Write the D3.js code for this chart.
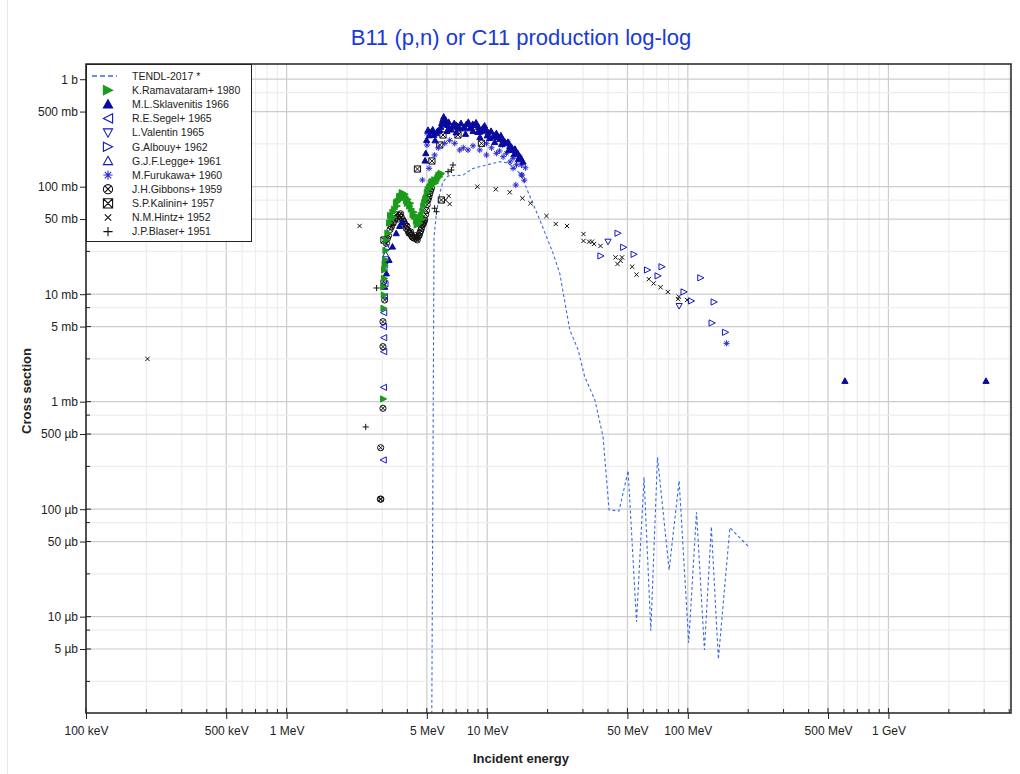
<!DOCTYPE html>
<html>
<head>
<meta charset="utf-8">
<script src="https://cdn.jsdelivr.net/npm/d3@7"></script>
<style>
  body { margin: 0; background: #fff; }
  text { font-family: Arial, "Liberation Sans", sans-serif; }
</style>
</head>
<body>
<div id="chart"></div>
<script>
/***** Data (energy in MeV, cross section in mb) *****/
var tendl = [[5.23,1e-5],[5.43,34.3],[5.58,56.6],[5.80,86.8],[6.02,111],[6.38,126],[7.57,128],[8.02,138],
  [8.50,148],[9.91,159],[11.5,171],[12.5,167],[13.5,154],[14.8,128],[15.7,96.6],[18.3,49.0],[21.3,24.0],
  [23.0,15.6],[25.8,4.65],[28.4,3.03],[30.6,1.71],[34.4,1.04],[37.8,0.472],[40.5,0.0983],[45.4,0.0962],
  [50.4,0.228],[55.5,0.00898],[60.5,0.198],[65.4,0.00741],[70.6,0.304],[80.7,0.0272],[90.5,0.184],
  [101,0.00573],[110.5,0.0936],[121,0.0049],[131,0.0688],[142,0.00402],[162,0.0673],[201,0.0448]]

var ramavataram = [[3.046,1.06],[3.06,7.39],[3.07,9.83],[3.05,11.7],[3.08,14.0],[3.082,16.8],[3.10,18.5],
  [3.118,20.8],[3.13,25.5],[3.144,31.9],[3.20,37],[3.26,46],[3.30,54],[3.33,50],[3.39,58],[3.42,52],
  [3.46,62],[3.53,71],[3.56,66],[3.59,73],[3.66,81],[3.70,76],[3.72,82],[3.77,88],[3.80,87],[3.86,82],
  [3.90,85],[3.92,80],[3.97,74],[4.00,70],[4.03,76],[4.11,66],[4.15,70],[4.19,62],[4.27,55],[4.31,58],
  [4.35,53],[4.44,48],[4.48,44],[4.52,49],[4.57,52],[4.61,46],[4.69,54],[4.74,50],[4.78,59],[4.83,66],
  [4.88,71],[4.93,76],[4.98,79],[5.03,88],[5.08,94],[5.17,98],[5.22,100],[5.27,108],[5.33,112],[5.38,107],
  [5.48,116],[5.53,108],[5.58,113],[5.64,118],[5.70,122],[5.75,128],[5.80,124],[5.86,130],[5.91,133]]

var sklavenitis = [[3.082,11.7],[3.144,15.6],[3.24,20.8],[3.37,27.7],[3.52,36.9],[3.66,43.1],[3.78,47.0],
  [4.90,175],[4.94,205],[4.99,272],[5.07,337],[5.15,300],[5.27,325],[5.35,340],[5.41,303],[5.50,270],
  [5.58,314],[5.65,330],[5.80,337],[5.87,360],[5.93,391],[6.00,420],[6.07,448],[6.15,380],[6.21,417],
  [6.30,330],[6.35,375],[6.42,400],[6.50,349],[6.60,340],[6.73,367],[6.85,390],[7.02,375],[7.00,320],
  [7.15,360],[7.29,349],[7.40,390],[7.57,349],[7.70,360],[7.80,310],[7.88,383],[8.05,400],[8.18,349],
  [8.30,360],[8.47,383],[8.50,330],[8.66,375],[8.80,395],[8.97,323],[9.05,360],[9.18,325],[9.20,290],
  [9.35,330],[9.50,352],[9.70,370],[9.91,337],[10.0,300],[10.1,320],[10.29,284],[10.45,330],[10.69,292],
  [10.8,300],[10.9,260],[11.11,314],[11.3,290],[11.54,278],[11.7,300],[11.8,250],[11.99,272],[12.2,265],
  [12.47,253],[12.7,260],[12.8,220],[12.95,239],[13.2,235],[13.45,220],[13.6,200],[13.75,225],[13.95,210],
  [14.2,205],[14.3,180],[14.52,190],[14.7,185],[15.08,171],[607,1.56],[3065,1.56]]

var segel = [[3.03,0.287],[3.04,1.36],[3.046,2.92],[3.046,3.94],[3.04,4.99],[3.046,6.73],[3.07,9.5],[3.09,12.5]]

var valentin = [[40.0,30.8],[90.5,7.77]]

var albouy = [[44.9,36.9],[47.9,27.3],[54.0,23.5],[36.9,22.7],[63.0,16.8],[74.4,18.0],[71.1,14.8],
  [95.8,10.5],[104.3,8.65],[116.1,14.2],[135.3,8.46],[132.2,5.40],[154.2,4.42]]

var legge = [[3.08,18.5],[3.12,23.5],[3.16,27.5]]

var furukawa = [[4.75,115.5],[5.13,148.3],[5.47,197.2],[5.01,244.3],[5.01,313.8],[5.7,230],[6.14,253.3],
  [6.5,270],[6.89,253.3],[7.29,219.5],[7.6,230],[8.02,219.5],[8.5,240],[9.18,219.5],[9.91,197.2],
  [10.5,230],[11.11,204.5],[11.5,215],[12.0,190],[12.47,204.5],[13.0,170],[13.45,183.7],[14.0,160],
  [14.52,190.1],[14.81,159.2],[13.45,148.3],[14.81,128.5],[13.88,103.7],[9.91,253.3],[11.95,244.3],
  [12.65,262.2],[14.91,128.5],[15.3,115],[15.5,150],[156.0,3.49]]

var gibbons = [[2.933,0.124],[2.95,0.124],[2.943,0.373],[3.022,0.868],[3.022,3.25],[3.022,5.55],
  [3.082,8.83],[3.046,13.07],[3.10,20],[3.144,29.8],[3.18,33],[3.22,35],[3.28,40],[3.33,42.5],[3.40,46],
  [3.46,49.0],[3.50,55],[3.56,52],[3.62,50],[3.66,54.5],[3.70,56],[3.73,52],[3.80,49.0],[3.84,47],
  [3.88,45],[3.95,41.0],[3.98,43],[4.03,39],[4.07,37],[4.11,36.9],[4.15,38],[4.20,35],[4.24,34],
  [4.28,33.5],[4.35,33.1],[4.40,35],[4.44,33],[4.48,32],[4.52,34.3],[4.57,35],[4.61,37],[4.66,39],
  [4.70,41.0],[4.75,44],[4.79,45],[4.84,47],[4.88,49.0],[4.93,55],[4.98,60],[5.02,68],[5.07,75.2],
  [5.12,80],[5.17,86],[5.22,92],[5.27,96.6]]

var kalinin = [[3.057,31.9],[4.49,146.1],[5.30,173.4],[5.80,244.3],[6.02,302.7],[6.89,361.5],
  [7.15,302.7],[9.36,253.3],[5.91,75.2]]

var hintz = [[0.2026,2.50],[2.31,43.1],[6.43,81.9],[6.50,69.0],[6.20,75.2],[8.93,100],[11.03,94.6],
  [12.95,88.7],[14.98,78.0],[16.43,70.1],[19.74,53.4],[21.96,45.0],[25.0,43.1],[30.18,36.3],[30.18,31.3],
  [32.2,30.8],[33.3,30.8],[34.1,29.3],[36.7,28.1],[43.6,22.0],[47.0,22.0],[46.2,20.5],[44.6,19.1],
  [52.8,18.0],[55.5,15.2],[63.9,13.8],[67.5,12.6],[73.1,11.6],[79.5,10.5],[90.2,9.48],[89.5,9.02],[99.2,8.83]]

var blaser = [[2.48,0.582],[2.81,11.42],[3.39,44.0],[5.47,63.0],[5.58,58.5],[6.38,137.9],[6.63,143.0],[6.75,159.2]]

var xTickValues = [0.1, 0.5, 1, 5, 10, 50, 100, 500, 1000]
var xTickLabels = ["100 keV","500 keV","1 MeV","5 MeV","10 MeV","50 MeV","100 MeV","500 MeV","1 GeV"]
var yTickValues = [1000, 500, 100, 50, 10, 5, 1, 0.5, 0.1, 0.05, 0.01, 0.005]
var yTickLabels = ["1 b","500 mb","100 mb","50 mb","10 mb","5 mb","1 mb","500 µb","100 µb","50 µb","10 µb","5 µb"]

var legendNames = ["K.Ramavataram+ 1980","M.L.Sklavenitis 1966","R.E.Segel+ 1965","L.Valentin 1965",
  "G.Albouy+ 1962","G.J.F.Legge+ 1961","M.Furukawa+ 1960","J.H.Gibbons+ 1959","S.P.Kalinin+ 1957",
  "N.M.Hintz+ 1952","J.P.Blaser+ 1951"]
var seriesData = [ramavataram, sklavenitis, segel, valentin, albouy, legge, furukawa, gibbons, kalinin, hintz, blaser]
var seriesMarks = ["triR","triU","triL","triD","triR","triU","star","circX","sqX","cross","plus"]
var seriesFilled = [true, true, false, false, false, false, false, false, false, false, false]
var seriesColors = ["#1a9c1a","#0a0aa0","#1515c8","#1515c8","#1515c8","#1515c8","#2a2ad0",
  "#111","#111","#111","#111"]

/***** Configuration *****/
var margin = { top: 64, right: 9, bottom: 61, left: 86 }
var width = 1020 - margin.left - margin.right
var height = 774 - margin.top - margin.bottom

var x = d3.scaleLog().domain([0.1, 4083]).range([0, width])
var y = d3.scaleLog().domain([1.27e-3, 1385]).range([height, 0])

var svg = d3.select("#chart").append("svg")
    .attr("width", 1020).attr("height", 774)

svg.append("line").attr("x1", 7.5).attr("x2", 7.5).attr("y1", 0).attr("y2", 774)
    .attr("stroke", "#e8e8e8")

svg.append("text").attr("x", 521).attr("y", 45).attr("text-anchor", "middle")
    .attr("font-size", 22).attr("fill", "#1a3ad8")
    .text("B11 (p,n) or C11 production log-log")

var g = svg.append("g").attr("transform", "translate(" + margin.left + "," + margin.top + ")")

g.append("clipPath").attr("id", "clip").append("rect")
    .attr("width", width).attr("height", height)

// grid values
function decadeValues(scale, mults) {
  var d = scale.domain(), lo = Math.min(d[0], d[1]), hi = Math.max(d[0], d[1]), out = []
  for (var n = Math.floor(Math.log10(lo)); n <= Math.ceil(Math.log10(hi)); n++) {
    mults.forEach(function (k) {
      var v = k * Math.pow(10, n)
      if (v >= lo && v <= hi) out.push({ v: v, major: k === 1 || k === 5 })
    })
  }
  return out
}
var xGrid = decadeValues(x, [1,2,3,4,5,6,7,8,9])
var yGrid = decadeValues(y, [1,2.5,5,7.5])

var grid = g.append("g")
grid.selectAll(".gx").data(xGrid).enter().append("line")
    .attr("x1", d => x(d.v)).attr("x2", d => x(d.v)).attr("y1", 0).attr("y2", height)
    .attr("stroke", d => d.major ? "#cccccc" : "#ededed").attr("stroke-width", 1.2)
grid.selectAll(".gy").data(yGrid).enter().append("line")
    .attr("y1", d => y(d.v)).attr("y2", d => y(d.v)).attr("x1", 0).attr("x2", width)
    .attr("stroke", d => d.major ? "#cccccc" : "#ededed").attr("stroke-width", 1.2)

// axes
var xAxis = d3.axisBottom(x).tickValues(xTickValues)
    .tickFormat((d, i) => xTickLabels[i]).tickSize(6).tickPadding(7)
var yAxis = d3.axisLeft(y).tickValues(yTickValues)
    .tickFormat((d, i) => yTickLabels[i]).tickSize(6).tickPadding(2)

var gx = g.append("g").attr("transform", "translate(0," + height + ")").call(xAxis)
var gy = g.append("g").call(yAxis)
;[gx, gy].forEach(function (a) {
  a.select(".domain").remove()
  a.selectAll("text").attr("font-size", 12).attr("fill", "#222")
    .style("font-family", "Arial, 'Liberation Sans', sans-serif")
  a.selectAll("line").attr("stroke", "#222")
})

// inner ticks
g.append("g").selectAll("line").data(xGrid).enter().append("line")
    .attr("x1", d => x(d.v)).attr("x2", d => x(d.v))
    .attr("y1", height).attr("y2", d => height - (d.major ? 5 : 4)).attr("stroke", "#222")
g.append("g").selectAll("line").data(yGrid).enter().append("line")
    .attr("y1", d => y(d.v)).attr("y2", d => y(d.v))
    .attr("x1", 0).attr("x2", d => d.major ? 5 : 4).attr("stroke", "#222")

// TENDL curve
var line = d3.line().x(d => x(d[0])).y(d => y(d[1]))
var plot = g.append("g").attr("clip-path", "url(#clip)")
plot.append("path").datum(tendl).attr("d", line)
    .attr("fill", "none").attr("stroke", "#3a6ae0").attr("stroke-width", 1.1)
    .attr("stroke-dasharray", "3,2.5")

// markers
function symPath(type, s) {
  var k = s * 0.7
  switch (type) {
    case "triR": return "M" + (-s) + "," + (-s) + "L" + s + ",0L" + (-s) + "," + s + "Z"
    case "triL": return "M" + s + "," + (-s) + "L" + (-s) + ",0L" + s + "," + s + "Z"
    case "triU": return "M0," + (-s) + "L" + s + "," + (s * 0.8) + "L" + (-s) + "," + (s * 0.8) + "Z"
    case "triD": return "M" + (-s) + "," + (-s * 0.8) + "L" + s + "," + (-s * 0.8) + "L0," + s + "Z"
    case "star": return "M" + (-s) + ",0H" + s + "M0," + (-s) + "V" + s +
      "M" + (-k) + "," + (-k) + "L" + k + "," + k + "M" + (-k) + "," + k + "L" + k + "," + (-k)
    case "circX": return "M" + s + ",0A" + s + "," + s + " 0 1,1 " + (-s) + ",0A" + s + "," + s + " 0 1,1 " + s + ",0Z" +
      "M" + (-k) + "," + (-k) + "L" + k + "," + k + "M" + (-k) + "," + k + "L" + k + "," + (-k)
    case "sqX": return "M" + (-s) + "," + (-s) + "H" + s + "V" + s + "H" + (-s) + "Z" +
      "M" + (-s) + "," + (-s) + "L" + s + "," + s + "M" + (-s) + "," + s + "L" + s + "," + (-s)
    case "cross": return "M" + (-k) + "," + (-k) + "L" + k + "," + k + "M" + (-k) + "," + k + "L" + k + "," + (-k)
    case "plus": return "M" + (-s) + ",0H" + s + "M0," + (-s) + "V" + s
  }
}

var drawOrder = [10, 9, 8, 7, 6, 5, 4, 3, 2, 1, 0]
drawOrder.forEach(function (i) {
  plot.append("g").selectAll("path").data(seriesData[i]).enter().append("path")
      .attr("transform", d => "translate(" + x(d[0]) + "," + y(d[1]) + ")")
      .attr("d", symPath(seriesMarks[i], 3.1))
      .attr("fill", seriesFilled[i] ? seriesColors[i] : "none")
      .attr("stroke", seriesColors[i]).attr("stroke-width", 1)
})

// frame
g.append("rect").attr("width", width).attr("height", height)
    .attr("fill", "none").attr("stroke", "#222").attr("stroke-width", 1.5)

// legend
var legend = g.append("g")
legend.append("rect").attr("x", 0.5).attr("y", 0.5).attr("width", 165).attr("height", 177)
    .attr("fill", "#fff").attr("stroke", "#222").attr("stroke-width", 1)
legend.append("line").attr("x1", 6).attr("x2", 31).attr("y1", 12).attr("y2", 12)
    .attr("stroke", "#3a6ae0").attr("stroke-width", 1.5).attr("stroke-dasharray", "5,3")
legend.append("text").attr("x", 46).attr("y", 15.5).attr("font-size", 10.5).attr("fill", "#222")
    .text("TENDL-2017 *")
legendNames.forEach(function (name, i) {
  var ly = 12 + (i + 1) * 14.15
  legend.append("path").attr("transform", "translate(22," + ly + ")")
      .attr("d", symPath(seriesMarks[i], 4.6))
      .attr("fill", seriesFilled[i] ? seriesColors[i] : "none")
      .attr("stroke", seriesColors[i]).attr("stroke-width", 1.1)
  legend.append("text").attr("x", 46).attr("y", ly + 3.8).attr("font-size", 10.5).attr("fill", "#222")
      .text(name)
})

// axis titles
svg.append("text").attr("x", 521).attr("y", 763).attr("text-anchor", "middle")
    .attr("font-size", 13).attr("font-weight", "bold").attr("fill", "#222").text("Incident energy")
svg.append("text").attr("transform", "translate(31,391) rotate(-90)").attr("text-anchor", "middle")
    .attr("font-size", 13).attr("font-weight", "bold").attr("fill", "#222").text("Cross section")
</script>
</body>
</html>
